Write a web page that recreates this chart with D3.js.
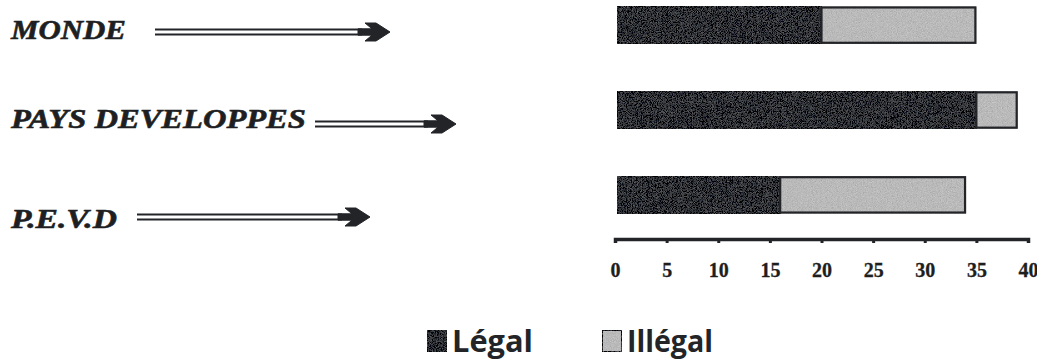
<!DOCTYPE html>
<html>
<head>
<meta charset="utf-8">
<script src="https://cdn.jsdelivr.net/npm/d3@7"></script>
<style>
  html, body { margin: 0; padding: 0; background: #ffffff; }
  svg { display: block; }
</style>
</head>
<body>
<svg id="chart" width="1037" height="361"></svg>
<script>
// Consumption shares by region: legal vs illegal
const categories = ["MONDE", "PAYS DEVELOPPES", "P.E.V.D"];
const legal = [20, 35, 16];
const illegal = [15, 4, 18];
const tickValues = [0, 5, 10, 15, 20, 25, 30, 35, 40];
const seriesNames = ["Légal", "Illégal"];

const svg = d3.select("#chart");
const ink = "#222428";
const darkFill = "#2c2e33";
const lightFill = "#b9b9b9";
const serif = "'Liberation Serif', 'Times New Roman', serif";

// stretch a text element horizontally so it spans the given width
function fitWidth(sel, xs, ys, widths) {
  sel.each(function (d, i) {
    const w = this.getComputedTextLength();
    const sx = widths[i] / w;
    d3.select(this).attr("x", 0).attr("y", 0)
      .attr("transform", `translate(${xs[i]},${ys[i]}) scale(${sx},1)`);
  });
}

// grain texture for the bar fills
const defs = svg.append("defs");
const grain = defs.append("filter").attr("id", "grain")
  .attr("x", 0).attr("y", 0).attr("width", 1).attr("height", 1);
grain.append("feTurbulence").attr("type", "fractalNoise")
  .attr("baseFrequency", 1.2).attr("numOctaves", 1).attr("seed", 3).attr("result", "noise");
grain.append("feColorMatrix").attr("in", "noise").attr("type", "matrix")
  .attr("values", "0.33 0.33 0.33 0 0  0.33 0.33 0.33 0 0  0.33 0.33 0.33 0 0  0 0 0 0 1")
  .attr("result", "gray");
grain.append("feComposite").attr("in", "SourceGraphic").attr("in2", "gray")
  .attr("operator", "arithmetic").attr("k1", 0).attr("k2", 1).attr("k3", 0.55).attr("k4", -0.27)
  .attr("result", "mix");
grain.append("feComposite").attr("in", "mix").attr("in2", "SourceGraphic").attr("operator", "in");

// scales
const x = d3.scaleLinear().domain([0, 40]).range([615, 1028]);
const y = d3.scaleBand().domain(categories).range([-19, 239]).paddingInner(0.56).paddingOuter(0.3);

// bars
const rows = svg.append("g").selectAll("g").data(categories).join("g");
rows.append("rect")
  .attr("x", (d, i) => x(0) + 2)
  .attr("y", d => y(d))
  .attr("width", (d, i) => x(legal[i]) - x(0) - 2)
  .attr("height", y.bandwidth())
  .attr("fill", darkFill)
  .attr("stroke", ink).attr("stroke-width", 2)
  .attr("filter", "url(#grain)");
rows.append("rect")
  .attr("x", (d, i) => x(legal[i]))
  .attr("y", d => y(d))
  .attr("width", (d, i) => x(legal[i] + illegal[i]) - x(legal[i]))
  .attr("height", y.bandwidth())
  .attr("fill", lightFill)
  .attr("filter", "url(#grain)");
rows.append("rect")
  .attr("x", (d, i) => x(legal[i]))
  .attr("y", d => y(d) + 1)
  .attr("width", (d, i) => x(legal[i] + illegal[i]) - x(legal[i]) - 1)
  .attr("height", y.bandwidth() - 2)
  .attr("fill", "none")
  .attr("stroke", ink).attr("stroke-width", 2.2);

// axis
const axis = svg.append("g")
  .attr("transform", "translate(0,239)")
  .call(d3.axisBottom(x).tickValues(tickValues).tickSize(4).tickSizeOuter(4).tickPadding(25));
axis.select(".domain").attr("stroke", ink).attr("stroke-width", 3.5);
axis.selectAll(".tick line").attr("stroke", ink).attr("stroke-width", 3);
axis.selectAll(".tick text")
  .attr("fill", "#1e1e1e")
  .attr("font-family", serif)
  .attr("font-weight", "bold")
  .attr("font-size", 20)
  .attr("stroke", "#1e1e1e").attr("stroke-width", 0.3)
  .attr("dy", "0.45em");

// category labels with pointing arrows
const labelSpecs = [
  { width: 115, base: 39, lineFrom: 155, lineTo: 362, cy: 32 },
  { width: 295, base: 128, lineFrom: 315, lineTo: 428, cy: 124 },
  { width: 106, base: 228, lineFrom: 137, lineTo: 342, cy: 217 }
];
const labels = svg.append("g").selectAll("g").data(categories).join("g");
labels.append("text")
  .attr("font-family", serif)
  .attr("font-style", "italic")
  .attr("font-weight", "bold")
  .attr("font-size", 28)
  .attr("fill", "#1e1f22")
  .attr("stroke", "#1e1f22").attr("stroke-width", 0.6)
  .text(d => d)
  .call(fitWidth, labelSpecs.map(() => 11), labelSpecs.map(s => s.base), labelSpecs.map(s => s.width));
[-2.4, 2.4].forEach(off => {
  labels.append("line")
    .attr("x1", (d, i) => labelSpecs[i].lineFrom)
    .attr("x2", (d, i) => labelSpecs[i].lineTo)
    .attr("y1", (d, i) => labelSpecs[i].cy + off)
    .attr("y2", (d, i) => labelSpecs[i].cy + off)
    .attr("stroke", ink).attr("stroke-width", 2);
});
labels.append("path")
  .attr("transform", (d, i) => `translate(${labelSpecs[i].lineTo - 4},${labelSpecs[i].cy})`)
  .attr("d", "M0,-3.2 L14,-3.2 L7,-9 L18,-9 L32,0 L18,9 L7,9 L14,3.2 L0,3.2 Z")
  .attr("fill", ink)
  .attr("stroke", ink).attr("stroke-width", 1).attr("stroke-linejoin", "round");

// legend
const legendSpecs = [
  { sx: 427, tx: 452, tw: 81, fill: darkFill },
  { sx: 602, tx: 627, tw: 86, fill: lightFill }
];
const legend = svg.append("g").selectAll("g").data(seriesNames).join("g");
legend.append("rect")
  .attr("x", (d, i) => legendSpecs[i].sx)
  .attr("y", 330)
  .attr("width", 20)
  .attr("height", 22)
  .attr("fill", (d, i) => legendSpecs[i].fill)
  .attr("stroke", ink).attr("stroke-width", 2)
  .attr("filter", "url(#grain)");
legend.append("text")
  .attr("font-family", "'Open Sans', 'Noto Sans', sans-serif")
  .attr("font-weight", "bold")
  .attr("font-size", 30)
  .attr("fill", "#222428")
  .text(d => d)
  .call(fitWidth, legendSpecs.map(s => s.tx), legendSpecs.map(() => 352), legendSpecs.map(s => s.tw));
</script>
</body>
</html>
